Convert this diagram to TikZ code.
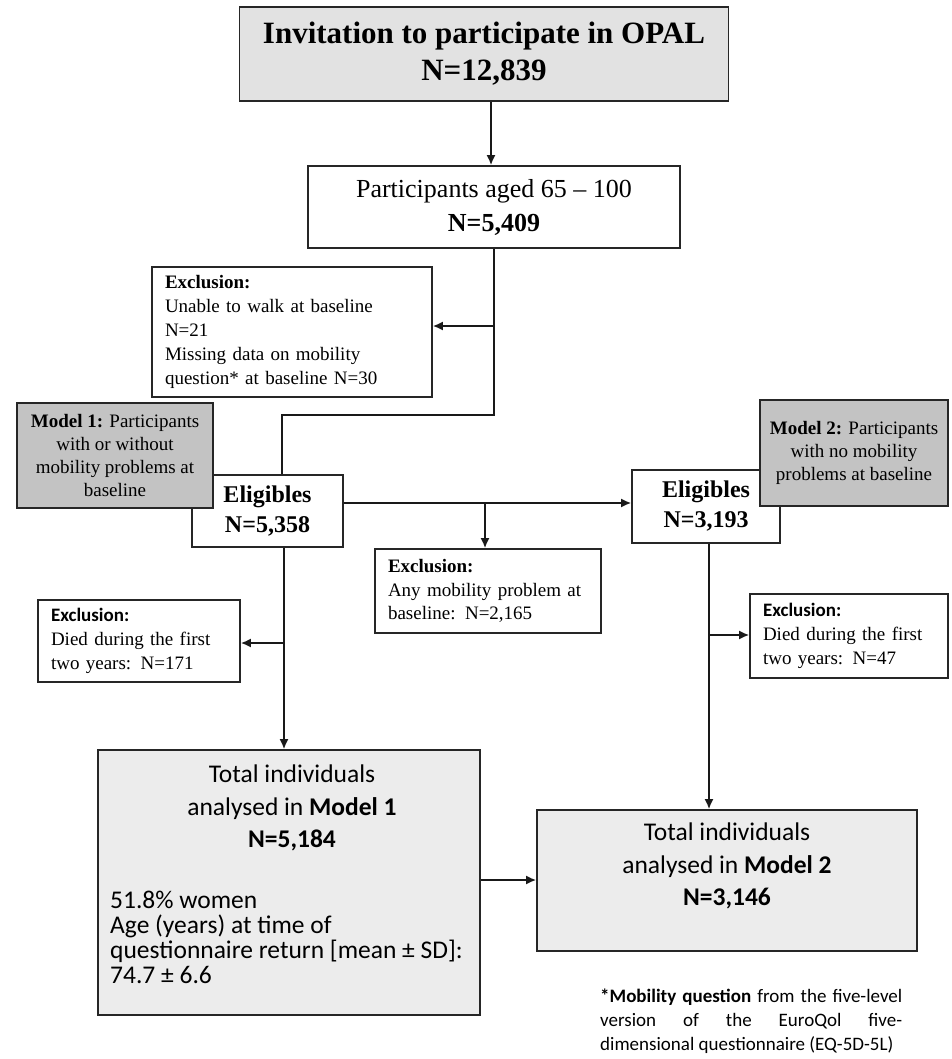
\documentclass[tikz,border=0pt]{standalone}
\usepackage{fontspec}
\setmainfont{Liberation Serif}
\newfontfamily\calfont{Carlito}
\usetikzlibrary{arrows.meta}
\definecolor{topgray}{HTML}{E2E2E2}
\definecolor{modgray}{HTML}{C3C3C3}
\definecolor{anagray}{HTML}{ECECEC}
\begin{document}
\begin{tikzpicture}[x=1pt,y=-1pt,
  bx/.style={draw=black!85, line width=1.7pt, inner sep=0pt},
  exbox/.style={bx, fill=white, align=left, inner xsep=13pt, font=\fontsize{19}{23.8}\selectfont},
  elbox/.style={bx, fill=white, align=center, font=\fontsize{24}{30}\selectfont\bfseries},
  modbox/.style={bx, fill=modgray, align=center, font=\fontsize{19}{23}\selectfont},
  anfont/.style={font=\calfont\fontsize{25.5}{32.5}\selectfont, inner sep=0pt},
  conn/.style={line width=1.7pt, draw=black!90},
  arr/.style={conn, -{Latex[length=10pt,width=9pt]}},
]
\useasboundingbox (0,0) rectangle (951,1059);

\node[bx, fill=topgray, minimum width=489, minimum height=94, align=center,
  font=\fontsize{31}{37}\selectfont\bfseries] (invite) at (484,54)
  {Invitation to participate in OPAL\\N=12,839};

\node[bx, fill=white, minimum width=372, minimum height=82, align=center,
  font=\fontsize{26}{34}\selectfont] (aged) at (494,207)
  {Participants aged 65 -- 100\\\textbf{N=5,409}};

\node[exbox, minimum width=280, minimum height=130, text width=254] (ex1) at (292,332)
  {\textbf{Exclusion:}\\Unable to walk at baseline\\N=21\\Missing data on mobility\\question* at baseline N=30};

\node[elbox, minimum width=151, minimum height=72] (el1) at (267.5,511) {Eligibles\\N=5,358};
\node[modbox, minimum width=196, minimum height=105] (m1) at (115,455.5)
  {\textbf{Model 1:} Participants\\with or without\\mobility problems at\\baseline};

\node[elbox, minimum width=148, minimum height=73] (el2) at (706,506.5) {Eligibles\\N=3,193};
\node[modbox, minimum width=188, minimum height=106] (m2) at (854,453)
  {\textbf{Model 2:} Participants\\with no mobility\\problems at baseline};

\node[exbox, minimum width=226, minimum height=84, text width=200] (ex2) at (488,591)
  {\textbf{Exclusion:}\\Any mobility problem at\\baseline: N=2,165};

\node[exbox, minimum width=198, minimum height=84, text width=172] (ex3) at (849,636)
  {{\calfont\bfseries Exclusion:}\\Died during the first\\two years: N=47};

\node[exbox, minimum width=202, minimum height=82, text width=176] (ex4) at (139,641)
  {{\calfont\bfseries Exclusion:}\\Died during the first\\two years: N=171};

\node[bx, fill=anagray, minimum width=382, minimum height=265] (an1) at (289,882.5) {};
\node[anfont, align=center] (an1t) at (292,808)
  {Total individuals\\analysed in \textbf{Model 1}\\\textbf{N=5,184}};
\node[anfont, align=left, anchor=west, font=\calfont\fontsize{25.5}{25}\selectfont] (an1b) at (110,937.5)
  {51.8\% women\\Age (years) at time of\\questionnaire return [mean ± SD]:\\74.7 ± 6.6};

\node[bx, fill=anagray, minimum width=380, minimum height=141] (an2) at (727,880.5) {};
\node[anfont, align=center] (an2t) at (727,866)
  {Total individuals\\analysed in \textbf{Model 2}\\\textbf{N=3,146}};

\node[font=\calfont\fontsize{19}{24}\selectfont, text width=302, align=justify,
  anchor=north west, inner sep=0pt] (fn) at (600,989)
  {\textbf{*Mobility question} from the five-level\linebreak version of the EuroQol five-\linebreak dimensional questionnaire (EQ-5D-5L)};

% connectors
\coordinate (a1) at (491,0);
\draw[arr] (invite.south -| a1) -- (aged.north -| a1);
\coordinate (c1) at (494,415);
\coordinate (c2) at (282,415);
\draw[conn] (aged.south -| c1) -- (c1) -- (c2) -- (el1.north -| c2);
\coordinate (b1) at (494,326);
\draw[arr] (b1) -- (ex1.east |- b1);

\coordinate (h1) at (0,503);
\draw[arr] (el1.east |- h1) -- (el2.west |- h1);
\coordinate (h2) at (485,503);
\draw[arr] (h2) -- (ex2.north -| h2);

\coordinate (v2) at (709,0);
\draw[arr] (el2.south -| v2) -- (an2.north -| v2);
\coordinate (b3) at (709,635);
\draw[arr] (b3) -- (ex3.west |- b3);

\coordinate (v1) at (284,0);
\draw[arr] (el1.south -| v1) -- (an1.north -| v1);
\coordinate (b4) at (284,643);
\draw[arr] (b4) -- (ex4.east |- b4);

\coordinate (h3) at (0,880);
\draw[arr] (an1.east |- h3) -- (an2.west |- h3);
\end{tikzpicture}
\end{document}
